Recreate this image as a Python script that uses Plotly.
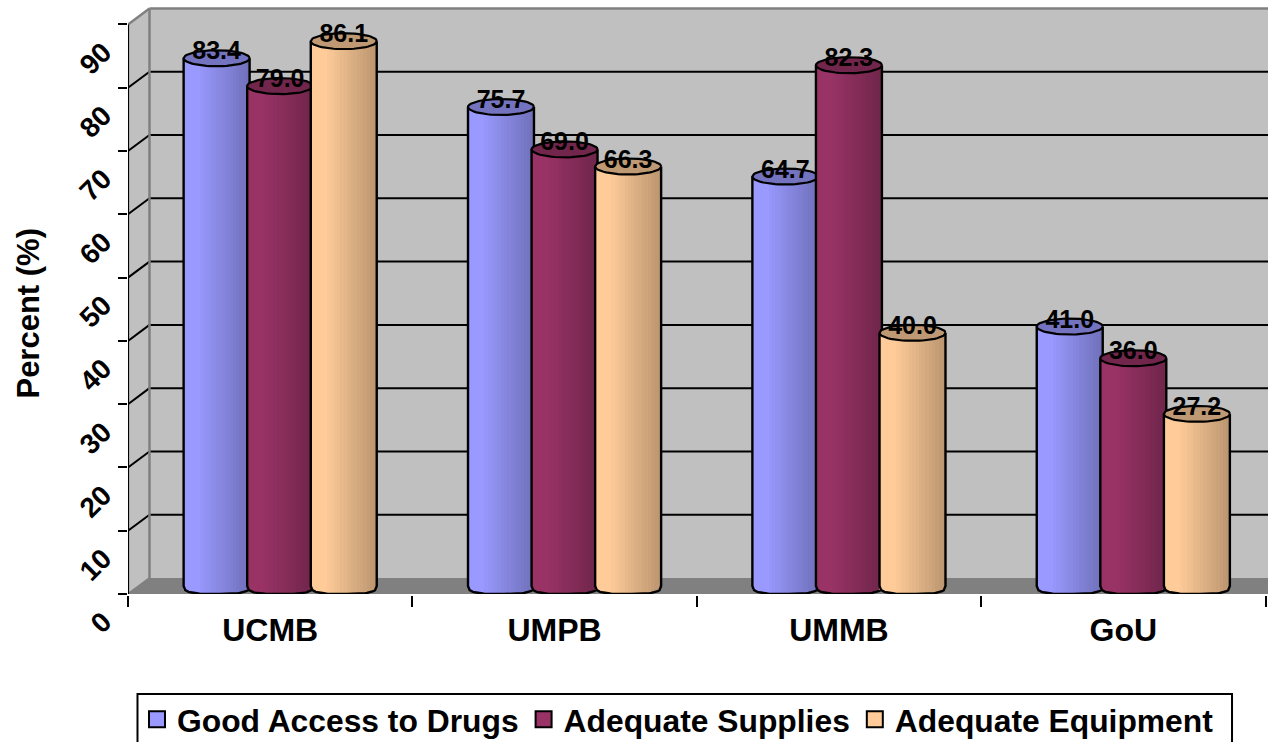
import math
import plotly.graph_objects as go

# Chart data
categories = ["UCMB", "UMPB", "UMMB", "GoU"]
series_names = ["Good Access to Drugs", "Adequate Supplies", "Adequate Equipment"]
good_access = [83.4, 75.7, 64.7, 41.0]
adequate_supplies = [79.0, 69.0, 82.3, 36.0]
adequate_equipment = [86.1, 66.3, 40.0, 27.2]
y_ticks = [0, 10, 20, 30, 40, 50, 60, 70, 80, 90]

series_values = [good_access, adequate_supplies, adequate_equipment]
base_colors = [(153, 153, 255), (153, 51, 102), (255, 204, 153)]

# Pixel layout of the plotting frame
LEFT, RIGHT, TOP, BASE = 127.5, 1268, 5, 594
WIDTH, HEIGHT = 1268, 742
PX_PER_CAT = 284.5
PX_PER_UNIT = 6.328
x_max = (RIGHT - LEFT) / PX_PER_CAT
y_max = (BASE - TOP) / PX_PER_UNIT

# Oblique depth of the box, in data units
DX = 21.5 / PX_PER_CAT
DY = 16 / PX_PER_UNIT
CAP_B = DY / 2
LABEL_DROP = 0.45

# Column placement in category units
COL_W = 66 / PX_PER_CAT
COL_STEP = 63.6 / PX_PER_CAT
GROUP_SHIFT = 10 / PX_PER_CAT
STRIPS = 20
FONT = "Liberation Sans"
BLACK = "#000000"
WALL = "#C0C0C0"
EDGE = "#808080"


def rgb(col, k):
    return "rgb({},{},{})".format(*[round(c * k) for c in col])


def shade(t):
    # Flat highlight on the left of the cylinder, falling off to the right
    return 1.0 if t < 0.22 else 1.0 - 0.27 * (t - 0.22) / 0.78


def foot(u):
    # Rounded, rather flat lower edge of a column
    return CAP_B * (1 - abs(u) ** 3) ** (1 / 3)


def col_center(cat, s):
    return cat + 0.5 + GROUP_SHIFT + (s - 1) * COL_STEP


fig = go.Figure()

for s, values in enumerate(series_values):
    z = s + 1
    # Body: vertical strips that give the cylinder its shading
    sw = COL_W / STRIPS
    for k in range(STRIPS):
        t = (k + 0.5) / STRIPS
        u = 2 * t - 1
        arc = foot(u)
        xs = [col_center(c, s) + u * COL_W / 2 for c in range(len(categories))]
        fig.add_trace(go.Bar(
            x=xs, y=[v + arc for v in values],
            base=[DY / 2 - arc] * len(values), width=sw * 1.15,
            marker=dict(color=rgb(base_colors[s], shade(t)), line=dict(width=0)),
            showlegend=False, hoverinfo="skip", zorder=z,
        ))

    # Column outlines and top caps
    ox, oy, cx, cy = [], [], [], []
    for c, v in enumerate(values):
        m = col_center(c, s)
        top = v + DY / 2
        ox += [m - COL_W / 2]
        oy += [top]
        for i in range(41):
            u = -1 + 2 * i / 40
            ox.append(m + u * COL_W / 2)
            oy.append(DY / 2 - foot(u))
        ox += [m + COL_W / 2, None]
        oy += [top, None]
        for i in range(61):
            a = 2 * math.pi * i / 60
            cx.append(m + math.cos(a) * COL_W / 2)
            cy.append(top + math.sin(a) * CAP_B)
        cx.append(None)
        cy.append(None)
    fig.add_trace(go.Scatter(
        x=ox, y=oy, mode="lines", line=dict(color=BLACK, width=2.4),
        showlegend=False, hoverinfo="skip", zorder=z,
    ))
    fig.add_trace(go.Scatter(
        x=cx, y=cy, mode="lines", fill="toself",
        fillcolor=rgb(base_colors[s], 0.75),
        line=dict(color=BLACK, width=2.2),
        showlegend=False, hoverinfo="skip", zorder=z,
    ))

# Value labels float above each cap
for s, values in enumerate(series_values):
    fig.add_trace(go.Scatter(
        x=[col_center(c, s) for c in range(len(values))],
        y=[v + DY - LABEL_DROP for v in values],
        mode="text",
        text=[f"{v:.1f}" for v in values],
        textposition="middle center",
        textfont=dict(family=FONT, size=25, color=BLACK, weight="bold"),
        showlegend=False, hoverinfo="skip", zorder=4,
    ))

# Legend keys
for name, col in zip(series_names, base_colors):
    fig.add_trace(go.Scatter(
        x=[None], y=[None], mode="markers", name=name,
        marker=dict(symbol="square", size=16, color=rgb(col, 1),
                    line=dict(color=BLACK, width=2)),
    ))

# Box walls, floor and gridlines
shapes = [
    dict(type="rect", x0=DX, x1=x_max, y0=DY, y1=y_ticks[-1] + DY,
         fillcolor=WALL, line=dict(width=0), layer="below"),
    dict(type="path", layer="below", fillcolor=WALL, line=dict(width=0),
         path=f"M0,0 L0,{y_ticks[-1]} L{DX},{y_ticks[-1] + DY} L{DX},{DY} Z"),
    dict(type="path", layer="below", fillcolor=EDGE, line=dict(width=0),
         path=f"M0,0 L{DX},{DY} L{x_max},{DY} L{x_max},0 Z"),
]
for t in y_ticks[1:-1]:
    shapes.append(dict(type="line", x0=DX, x1=x_max, y0=t + DY, y1=t + DY,
                       line=dict(color=BLACK, width=2), layer="below"))
    shapes.append(dict(type="line", x0=0, x1=DX, y0=t, y1=t + DY,
                       line=dict(color=BLACK, width=2), layer="below"))
top_wall = y_ticks[-1] + DY
shapes += [
    dict(type="line", x0=DX, x1=x_max, y0=top_wall, y1=top_wall,
         line=dict(color=EDGE, width=2.5), layer="below"),
    dict(type="line", x0=DX, x1=DX, y0=DY, y1=top_wall,
         line=dict(color=EDGE, width=2.5), layer="below"),
    dict(type="line", x0=0, x1=DX, y0=y_ticks[-1], y1=top_wall,
         line=dict(color=EDGE, width=2.5), layer="below"),
    dict(type="line", x0=0, x1=DX, y0=0, y1=DY,
         line=dict(color=EDGE, width=2), layer="below"),
    dict(type="line", x0=0, x1=0, y0=0, y1=y_ticks[-1],
         line=dict(color=BLACK, width=2.2), layer="below"),
]

# Frame around the legend, running off the bottom of the page
plot_w = RIGHT - LEFT
plot_h = BASE - TOP
shapes.append(dict(
    type="rect", xref="paper", yref="paper",
    x0=(137 - LEFT) / plot_w, x1=(1232 - LEFT) / plot_w,
    y0=(BASE - 694) / plot_h, y1=(BASE - 750) / plot_h,
    fillcolor="white", line=dict(color=BLACK, width=2), layer="below",
))

fig.update_layout(
    width=WIDTH, height=HEIGHT, autosize=False,
    margin=dict(l=LEFT, r=0, t=TOP, b=HEIGHT - BASE, pad=0),
    paper_bgcolor="white", plot_bgcolor="white",
    barmode="overlay", bargap=0, shapes=shapes,
    font=dict(family=FONT, color=BLACK),
    xaxis=dict(
        range=[0, x_max], tickmode="array",
        tickvals=[i + 0.5 for i in range(len(categories))], ticktext=categories,
        ticks="", showgrid=False, zeroline=False,
        showline=True, linecolor=BLACK, linewidth=2,
        tickfont=dict(family=FONT, size=32, weight="bold"),
        ticklabelstandoff=7,
        minor=dict(tickmode="linear", tick0=0, dtick=1, ticks="outside",
                   ticklen=11, tickwidth=2, tickcolor=BLACK, showgrid=False),
    ),
    yaxis=dict(
        range=[0, y_max], tickmode="array",
        tickvals=y_ticks, ticktext=[str(t) for t in y_ticks],
        tickangle=-45, ticks="outside", ticklen=9, tickwidth=2, tickcolor=BLACK,
        showgrid=False, zeroline=False, showline=False,
        tickfont=dict(family=FONT, size=28, weight="bold"),
        ticklabelshift=24, ticklabelstandoff=9,
    ),
    annotations=[dict(
        text="Percent (%)", textangle=-90, showarrow=False,
        xref="paper", yref="paper",
        x=(27 - LEFT) / plot_w, y=(BASE - 313) / plot_h,
        xanchor="center", yanchor="middle",
        font=dict(family=FONT, size=31, color=BLACK, weight="bold"),
    )],
    showlegend=True,
    legend=dict(
        orientation="h", xref="container", yref="container",
        x=137 / WIDTH, y=1 - 692 / HEIGHT, xanchor="left", yanchor="top",
        bgcolor="rgba(0,0,0,0)", borderwidth=0,
        font=dict(family=FONT, size=31.8, weight="bold"),
        itemclick=False, itemdoubleclick=False,
    ),
)

fig.write_html("out.html", config=dict(displayModeBar=False))
